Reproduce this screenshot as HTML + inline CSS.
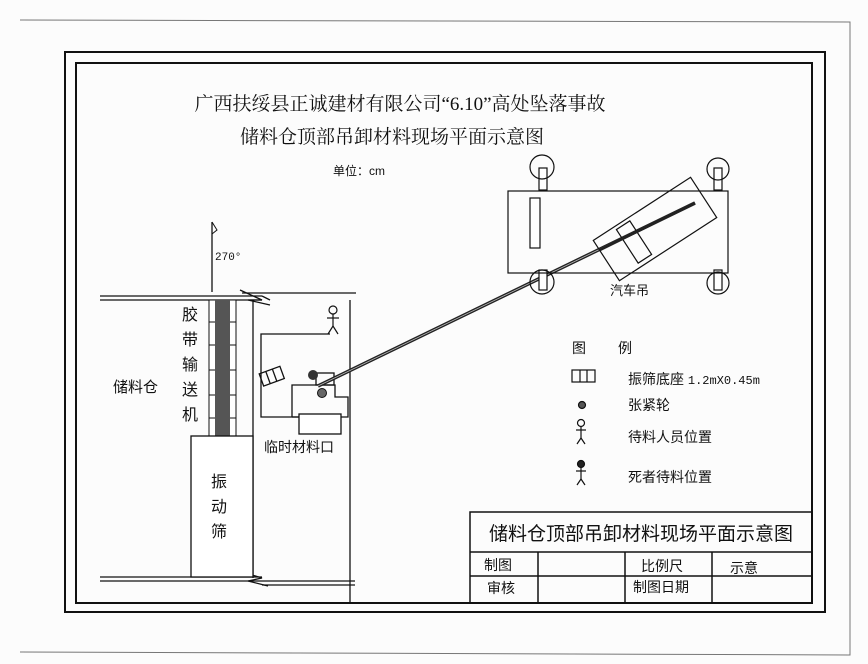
<!DOCTYPE html>
<html><head><meta charset="utf-8"><style>
html,body{margin:0;padding:0;background:#fff;}
svg{display:block;font-family:"Liberation Sans","Noto Sans CJK SC",sans-serif;}
</style></head><body>
<svg width="868" height="664" viewBox="0 0 868 664" xmlns="http://www.w3.org/2000/svg">
<rect width="868" height="664" fill="#fcfcfc"/>
<!-- page -->
<polyline points="20,20 850,22 850,655 20,652" fill="none" stroke="#777" stroke-width="1"/>
<rect x="65" y="52" width="760" height="560" fill="none" stroke="#111" stroke-width="2"/>
<rect x="76" y="63" width="736" height="540" fill="none" stroke="#111" stroke-width="2"/>
<!-- titles -->
<text x="400" y="110" font-size="19" text-anchor="middle" fill="#111" font-family="Liberation Serif,Noto Serif CJK SC,serif">广西扶绥县正诚建材有限公司“6.10”高处坠落事故</text>
<text x="392" y="143" font-size="19" text-anchor="middle" fill="#111" font-family="Liberation Serif,Noto Serif CJK SC,serif">储料仓顶部吊卸材料现场平面示意图</text>
<text x="333" y="175" font-size="12" fill="#111">单位：cm</text>
<!-- north -->
<line x1="212" y1="222" x2="212" y2="292" stroke="#111" stroke-width="1.3"/>
<path d="M212,222 L217,230 L212,234" fill="none" stroke="#111"/>
<text x="215" y="260" font-size="11" fill="#111" font-family="Liberation Mono,monospace">270°</text>
<!-- walls -->
<g stroke="#111" stroke-width="1.3" fill="none">
<line x1="100" y1="296" x2="262" y2="296"/><line x1="100" y1="300" x2="262" y2="300"/>
<line x1="242" y1="293" x2="356" y2="293"/><line x1="262" y1="296" x2="270" y2="300"/>
<path d="M240,290 L262,300 L248,300 L270,305"/>
<line x1="100" y1="577" x2="262" y2="577"/><line x1="100" y1="581" x2="262" y2="581"/>
<path d="M242,572 L262,578 L248,581 L268,586"/>
<line x1="262" y1="581" x2="355" y2="581"/><line x1="262" y1="585" x2="355" y2="585"/>
<line x1="253" y1="300" x2="253" y2="578"/>
<line x1="350" y1="300" x2="350" y2="603"/>
</g>
<!-- conveyor -->
<rect x="209" y="300" width="27" height="137" fill="#fff" stroke="#111"/>
<rect x="215" y="300" width="15" height="137" fill="#555"/>
<g stroke="#111" stroke-width="1">
<line x1="209" y1="322" x2="215" y2="322"/><line x1="230" y1="322" x2="236" y2="322"/>
<line x1="209" y1="345" x2="215" y2="345"/><line x1="230" y1="345" x2="236" y2="345"/>
<line x1="209" y1="370" x2="215" y2="370"/><line x1="230" y1="370" x2="236" y2="370"/>
<line x1="209" y1="395" x2="215" y2="395"/><line x1="230" y1="395" x2="236" y2="395"/>
<line x1="209" y1="418" x2="215" y2="418"/><line x1="230" y1="418" x2="236" y2="418"/>
</g>
<rect x="191" y="436" width="62" height="141" fill="#fff" stroke="#111" stroke-width="1.3"/>
<g font-size="16" fill="#111" text-anchor="middle">
<text x="219" y="487">振</text><text x="219" y="512">动</text><text x="219" y="537">筛</text>
<text x="190" y="320">胶</text><text x="190" y="345">带</text><text x="190" y="370">输</text><text x="190" y="395">送</text><text x="190" y="420">机</text>
</g>
<text x="113" y="392" font-size="15" fill="#111">储料仓</text>
<!-- enclosure -->
<g stroke="#111" stroke-width="1.3" fill="none">
<polyline points="330,334 261,334 261,417 300,417"/>
<polyline points="292,417 292,385 335,385 335,397 348,397 348,417 292,417"/>
<rect x="299" y="414" width="42" height="20" fill="#fff"/>
<rect x="316" y="373" width="18" height="12"/>
<g transform="rotate(-20 271 377)"><rect x="261" y="370" width="22" height="13"/><line x1="268" y1="370" x2="268" y2="383"/><line x1="275" y1="370" x2="275" y2="383"/></g>
</g>
<circle cx="313" cy="375" r="5" fill="#333"/>
<circle cx="322" cy="393" r="4.5" fill="#666" stroke="#111"/>
<text x="264" y="452" font-size="14" fill="#111">临时材料口</text>
<!-- person -->
<g stroke="#111" stroke-width="1.2" fill="none">
<circle cx="333" cy="310" r="4"/><line x1="333" y1="314" x2="333" y2="326"/><line x1="327" y1="318" x2="339" y2="318"/><path d="M328,334 L333,326 L338,334"/>
</g>
<!-- boom -->
<line x1="318" y1="386" x2="695" y2="203" stroke="#222" stroke-width="3.5"/>
<line x1="318" y1="386" x2="695" y2="203" stroke="#bbb" stroke-width="0.8"/>
<!-- truck -->
<g stroke="#111" stroke-width="1.2" fill="#fff">
<rect x="539" y="168" width="8" height="22"/><rect x="714" y="168" width="8" height="22"/>
<rect x="539" y="270" width="8" height="20"/><rect x="714" y="270" width="8" height="20"/>
<circle cx="542" cy="167" r="12" fill="none"/><circle cx="718" cy="169" r="11" fill="none"/>
<circle cx="542" cy="282" r="12" fill="none"/><circle cx="718" cy="283" r="11" fill="none"/>
<rect x="508" y="191" width="220" height="82" fill="none"/>
<rect x="530" y="198" width="10" height="50"/>
<g transform="rotate(-33 655 229)"><rect x="597" y="205" width="116" height="48" fill="none"/></g>
<g transform="rotate(-33 634 242)"><rect x="626" y="222" width="16" height="40" fill="none"/></g>
</g>
<line x1="600" y1="250" x2="695" y2="203" stroke="#222" stroke-width="2.5"/>
<text x="610" y="295" font-size="13" fill="#111">汽车吊</text>
<!-- legend -->
<g font-size="14" fill="#111">
<text x="572" y="353">图</text><text x="618" y="353">例</text>
<text x="628" y="384">振筛底座 <tspan font-family="Liberation Mono,monospace" font-size="12">1.2mX0.45m</tspan></text>
<text x="628" y="410">张紧轮</text>
<text x="628" y="442">待料人员位置</text>
<text x="628" y="482">死者待料位置</text>
</g>
<g stroke="#111" stroke-width="1.2" fill="none">
<rect x="572" y="370" width="23" height="12"/><line x1="580" y1="370" x2="580" y2="382"/><line x1="587" y1="370" x2="587" y2="382"/>
<circle cx="582" cy="405" r="3.5" fill="#555"/>
<circle cx="581" cy="423" r="3.5"/><line x1="581" y1="427" x2="581" y2="438"/><line x1="576" y1="430" x2="586" y2="430"/><path d="M577,444 L581,438 L585,444"/>
<circle cx="581" cy="464" r="3.5" fill="#222"/><line x1="581" y1="468" x2="581" y2="479"/><line x1="576" y1="471" x2="586" y2="471"/><path d="M577,485 L581,479 L585,485"/>
</g>
<!-- title block -->
<g stroke="#111" stroke-width="1.5" fill="none">
<rect x="470" y="512" width="342" height="91"/>
<line x1="470" y1="552" x2="812" y2="552"/>
<line x1="470" y1="576" x2="812" y2="576"/>
<line x1="538" y1="552" x2="538" y2="603"/>
<line x1="625" y1="552" x2="625" y2="603"/>
<line x1="712" y1="552" x2="712" y2="603"/>
</g>
<text x="641" y="540" font-size="19" text-anchor="middle" fill="#111">储料仓顶部吊卸材料现场平面示意图</text>
<g font-size="14" fill="#111">
<text x="484" y="570">制图</text><text x="487" y="593">审核</text>
<text x="641" y="571">比例尺</text><text x="730" y="573">示意</text>
<text x="633" y="592">制图日期</text>
</g>
</svg>
</body></html>
